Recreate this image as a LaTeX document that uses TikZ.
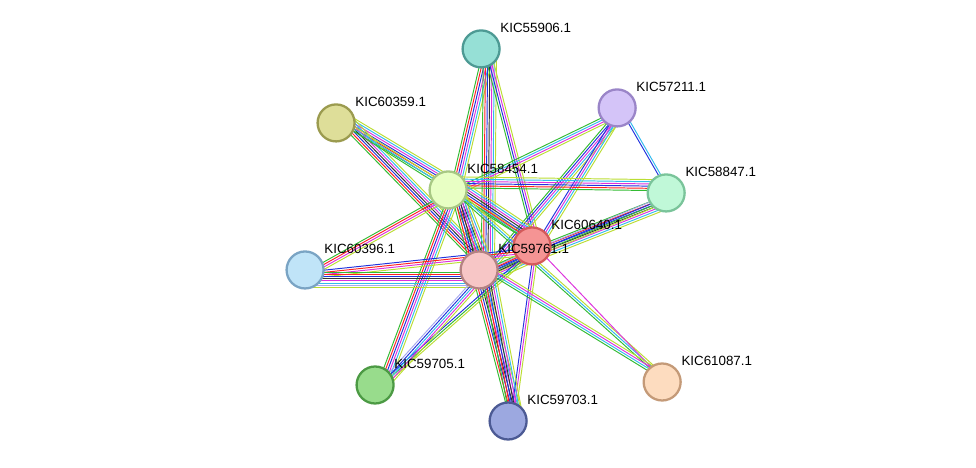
\documentclass[tikz,border=0pt]{standalone}
\usepackage{fontspec}
\setmainfont{Liberation Sans}
\usetikzlibrary{calc,backgrounds}
\definecolor{cG}{HTML}{33BB33}\definecolor{cR}{HTML}{FF2222}
\definecolor{cB}{HTML}{2233DD}\definecolor{cC}{HTML}{33BBEE}
\definecolor{cM}{HTML}{DD33DD}\definecolor{cY}{HTML}{BBDD33}
\definecolor{cL}{HTML}{AAAAEE}\definecolor{cK}{HTML}{333333}
\tikzset{
  prot/.style={circle,minimum size=0.74cm,line width=1.3pt,inner sep=0pt},
  lbl/.style={anchor=west,font=\fontsize{7.6}{9}\selectfont,inner sep=0pt}
}
% protein node with its name above right
\newcommand\Prot[6]{%
  \definecolor{#1f}{HTML}{#4}\definecolor{#1d}{HTML}{#5}%
  \node[prot,fill=#1f,draw=#1d] (#1) at (#2*0.02,{(467-#3)*0.02}) {};
  \node[lbl] (#1l) at ($(#1)+(0.38,0.42)$) {#6};}
% bundle of coloured lines between two nodes
\newcommand\Link[3]{%
  \foreach \c [count=\i] in {#3}{%
    \pgfmathsetmacro\o{\i*1.25}
    \draw[\c,line width=0.55pt] ($(#1)!\o pt!90:(#2)$) -- ($(#2)!\o pt!-90:(#1)$);}}
\begin{document}
\begin{tikzpicture}
  \useasboundingbox (0,0) rectangle (19.52,9.34);
  \Prot{n55906}{481}{49}{96E0D6}{4D9A94}{KIC55906.1}
  \Prot{n57211}{617}{108}{D4C4F8}{9A85C8}{KIC57211.1}
  \Prot{n60359}{336}{123}{DEDE99}{9B9B4F}{KIC60359.1}
  \Prot{n58454}{448}{190}{E8FFC4}{A8C884}{KIC58454.1}
  \Prot{n58847}{666}{193}{C0F8D8}{7AC49A}{KIC58847.1}
  \Prot{n60640}{532}{246}{F59494}{D45A5A}{KIC60640.1}
  \Prot{n60396}{305}{270}{C0E4F8}{7AA4C4}{KIC60396.1}
  \Prot{n59761}{479}{270}{F7C6C6}{B48282}{KIC59761.1}
  \Prot{n59705}{375}{385}{98DC8C}{4C9A44}{KIC59705.1}
  \Prot{n59703}{508}{421}{9CA8E0}{4C5A94}{KIC59703.1}
  \Prot{n61087}{662}{382}{FDDCBF}{C49A78}{KIC61087.1}
  \begin{scope}[on background layer]
    \Link{n55906}{n58454}{cG,cR,cB,cM,cC,cY}
    \Link{n55906}{n59761}{cG,cR,cB,cK,cM,cC,cY}
    \Link{n55906}{n60640}{cG,cB,cM,cY}
    \Link{n57211}{n58454}{cG,cC,cM,cY}
    \Link{n57211}{n59761}{cG,cB,cM,cC,cY}
    \Link{n57211}{n60640}{cB,cM,cC,cY}
    \Link{n57211}{n58847}{cB,cC}
    \Link{n60359}{n58454}{cG,cR,cB,cM,cC,cY}
    \Link{n60359}{n59761}{cG,cR,cB,cK,cM,cC,cY}
    \Link{n60359}{n60640}{cG,cC,cY}
    \Link{n58454}{n58847}{cG,cR,cB,cM,cC,cY}
    \Link{n58454}{n60640}{cG,cR,cB,cK,cM,cC,cY}
    \Link{n58454}{n59761}{cG,cR,cB,cK,cM,cC,cY}
    \Link{n58454}{n60396}{cG,cR,cM,cY}
    \Link{n58454}{n59705}{cG,cR,cB,cM,cC,cY}
    \Link{n58454}{n59703}{cG,cR,cB,cK,cM,cC,cY}
    \Link{n58454}{n61087}{cG,cC,cY}
    \Link{n58847}{n60640}{cG,cR,cB,cK,cM,cC,cY}
    \Link{n58847}{n59761}{cL,cB,cG,cY}
    \Link{n60640}{n59761}{cG,cR,cB,cK,cM,cC,cY}
    \Link{n60640}{n60396}{cB,cR,cM,cY}
    \Link{n60640}{n59705}{cB,cG,cY}
    \Link{n60640}{n59703}{cB,cM,cY}
    \Link{n60640}{n61087}{cM}
    \Link{n59761}{n60396}{cG,cR,cB,cK,cM,cC,cL,cY}
    \Link{n59761}{n59705}{cL,cB,cC,cM,cY}
    \Link{n59761}{n59703}{cG,cR,cB,cK,cM,cC,cY}
    \Link{n59761}{n61087}{cG,cC,cM,cY}
  \end{scope}
\end{tikzpicture}
\end{document}
